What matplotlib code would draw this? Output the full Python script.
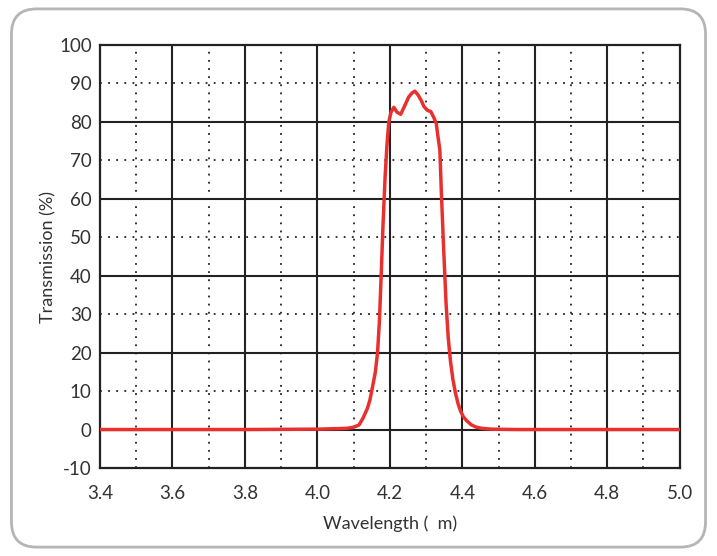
import matplotlib
matplotlib.use('Agg')
import matplotlib.pyplot as plt
from matplotlib.patches import FancyBboxPatch
import numpy as np

# wavelength (um) and transmission (%)
wavelength = [3.40, 3.60, 3.80, 4.00, 4.08, 4.10, 4.115, 4.126, 4.138, 4.145, 4.154,
              4.160, 4.166, 4.171, 4.176, 4.181, 4.187, 4.192, 4.197, 4.203, 4.211, 4.220,
              4.230, 4.240, 4.252, 4.262, 4.269, 4.278, 4.287, 4.294, 4.304, 4.313,
              4.322, 4.328, 4.333, 4.338, 4.342, 4.348, 4.355, 4.361, 4.367, 4.374,
              4.381, 4.388, 4.395, 4.403, 4.412, 4.425, 4.439, 4.455, 4.48, 4.55, 4.70, 5.00]
transmission = [0.0, 0.0, 0.0, 0.1, 0.3, 0.6, 1.2, 3.0, 5.5, 7.7, 12.0,
                15.0, 20.0, 28.0, 40.0, 53.0, 66.0, 74.0, 80.0, 82.5, 83.8, 82.5,
                82.0, 84.0, 86.5, 87.6, 88.0, 87.0, 85.5, 84.0, 83.0, 82.7,
                81.0, 79.6, 76.0, 72.7, 62.0, 48.0, 33.0, 24.0, 18.0, 13.0,
                9.5, 6.8, 4.8, 3.3, 2.3, 1.2, 0.6, 0.3, 0.1, 0.0, 0.0, 0.0]

xticks = [3.4, 3.6, 3.8, 4.0, 4.2, 4.4, 4.6, 4.8, 5.0]
yticks = list(range(-10, 101, 10))

plt.rcParams['font.family'] = ['Lato', 'DejaVu Sans']
plt.rcParams['axes.unicode_minus'] = False
fig = plt.figure(figsize=(7.17, 5.56), dpi=100)

# rounded frame around the whole chart
frame = FancyBboxPatch((0.016, 0.016), 0.968, 0.968,
                       boxstyle='round,pad=0,rounding_size=0.035',
                       transform=fig.transFigure, facecolor='white',
                       edgecolor='#b5b5b5', linewidth=2, mutation_aspect=717/556,
                       zorder=-10)
fig.patches.append(frame)

ax = fig.add_axes([0.1395, 0.1583, 0.8085, 0.7607])
ax.set_zorder(5)
ax.set_xlim(3.4, 5.0)
ax.set_ylim(-10, 100)

# grid: solid on major values, dotted in between
for x in np.arange(3.6, 4.9, 0.2):
    ax.axvline(x, color='#222222', lw=1.5, zorder=1)
for x in np.arange(3.5, 5.0, 0.2):
    ax.axvline(x, color='#222222', lw=1.3, ls=(0, (1, 3.5)), zorder=1)
for y in range(0, 100, 20):
    ax.axhline(y, color='#222222', lw=1.5, zorder=1)
for y in range(10, 100, 20):
    ax.axhline(y, color='#222222', lw=1.3, ls=(0, (1, 3.5)), zorder=1)

ax.plot(wavelength, transmission, color='#e8312f', lw=2.5, zorder=3)

ax.set_xticks(xticks)
ax.set_xticklabels([f'{v:.1f}' for v in xticks])
ax.set_yticks(yticks)
ax.tick_params(length=0, labelsize=13.5, colors='#333333')
ax.tick_params(axis='x', pad=12)
ax.tick_params(axis='y', pad=6)
for s in ax.spines.values():
    s.set_color('#222222')
    s.set_linewidth(1.6)

ax.set_xlabel('Wavelength (  m)', fontsize=13, color='#333333', labelpad=10)
ax.set_ylabel('Transmission (%)', fontsize=13, color='#333333', labelpad=2)

fig.savefig('out.png', dpi=100)
